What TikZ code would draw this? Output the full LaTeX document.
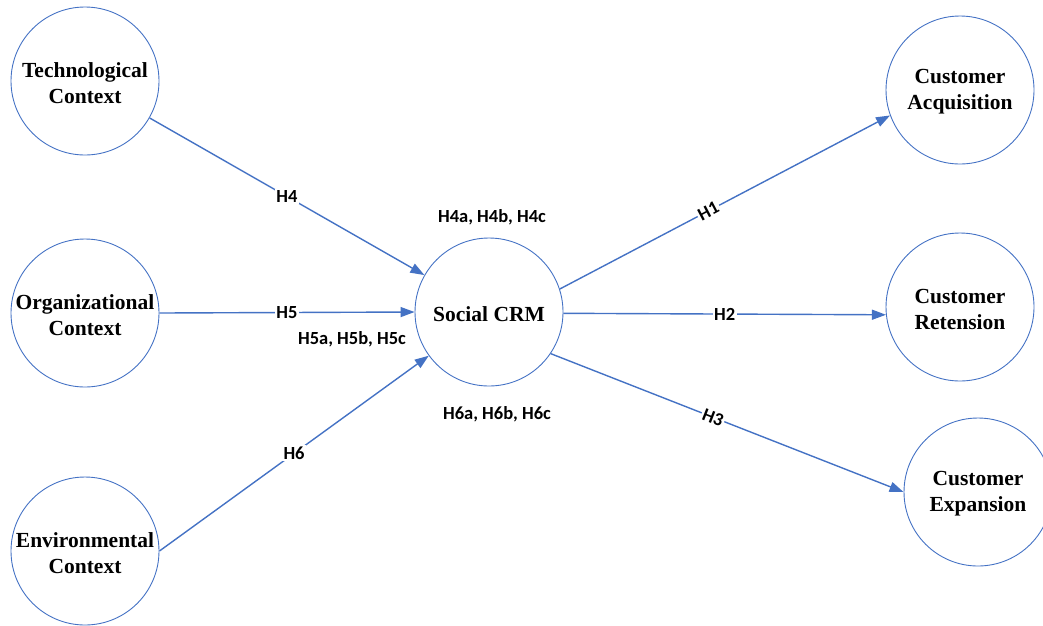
\documentclass[tikz,border=0pt]{standalone}
\usepackage{fontspec}
\setmainfont{Liberation Serif}
\newfontfamily\lblfont{Carlito}
\usetikzlibrary{arrows.meta}
\definecolor{ublue}{RGB}{68,114,196}
\tikzset{
  concept/.style={circle, draw=ublue, line width=0.9pt, minimum size=148pt, inner sep=0pt},
  ctext/.style={align=center, font=\bfseries\fontsize{21.5}{26}\selectfont, yshift=-2pt},
  link/.style={draw=ublue, line width=1.4pt, -{Triangle[length=14pt,width=10pt]}},
  hlab/.style={font=\lblfont\bfseries\fontsize{18.5}{22}\selectfont, text=black},
  onlab/.style={hlab, fill=white, inner sep=1.5pt}
}
\begin{document}
\begin{tikzpicture}[x=1pt,y=-1pt]
\useasboundingbox (0,0) rectangle (1043,625);
\node[concept] (tech) at (85,81) {};
\node[concept] (org) at (85,313) {};
\node[concept] (env) at (85,551) {};
\node[concept] (scrm) at (489,312) {};
\node[concept] (acq) at (960,90) {};
\node[concept] (ret) at (960,307) {};
\node[concept] (exp) at (978,492) {};
\node[ctext] (techt) at (tech) {Technological\\Context};
\node[ctext] (orgt) at (org) {Organizational\\Context};
\node[ctext] (envt) at (env) {Environmental\\Context};
\node[ctext] (scrmt) at (scrm) {Social CRM};
\node[ctext] (acqt) at (acq) {Customer\\Acquisition};
\node[ctext] (rett) at (ret) {Customer\\Retension};
\node[ctext] (expt) at (exp) {Customer\\Expansion};

\draw[link] (tech) -- node[onlab, pos=0.5] (h4) {H4} (scrm);
\draw[link] (org.east) -- node[onlab, pos=0.5] (h5) {H5} (scrm.west);
\draw[link] (env.east) -- node[onlab, pos=0.5] (h6) {H6} (scrm);
\draw[link] (scrm.18) -- node[onlab, pos=0.45, sloped] (h1) {H1} (acq.200);
\draw[link] (scrm.-1) -- node[onlab, pos=0.5] (h2) {H2} (ret.186);
\draw[link] (scrm.-34) -- node[onlab, pos=0.46, sloped] (h3) {H3} (exp.west);

\node[hlab] (h4abc) at (492,217) {H4a, H4b, H4c};
\node[hlab] (h5abc) at (352,339) {H5a, H5b, H5c};
\node[hlab] (h6abc) at (497,414) {H6a, H6b, H6c};
\end{tikzpicture}
\end{document}
